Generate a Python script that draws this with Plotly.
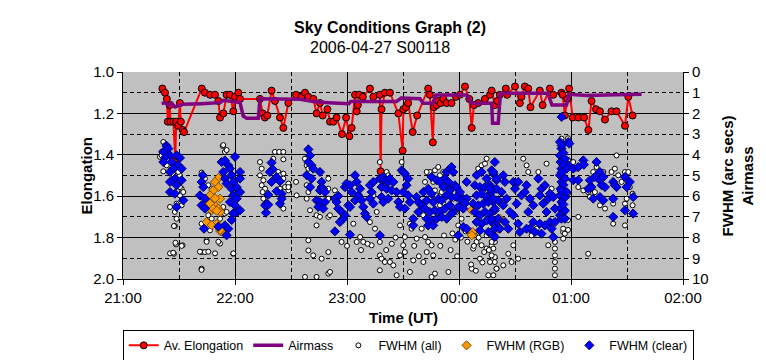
import plotly.graph_objects as go

# ---------------- data (time in minutes after 21:00 UT) ----------------
X_TICK_VALS = [0, 60, 120, 180, 240, 300]
X_TICK_LABELS = ["21:00", "22:00", "23:00", "00:00", "01:00", "02:00"]

ELONG_MIN = [21.1, 22.5, 23.5, 24.0, 25.0, 25.5, 27.0, 28.0, 28.5, 29.5, 30.5, 31.0, 32.0, 32.7,
             42.2, 43.9, 46.6, 49.3, 51.1, 52.0, 53.8, 55.5, 57.3, 59.1, 60.0, 61.8, 62.7,
             73.4, 74.8, 76.0, 77.3, 79.6, 81.4, 84.1, 85.9, 88.6, 92.7, 95.7, 97.5, 99.3,
             102.0, 103.7, 105.5, 107.0, 109.5, 110.9, 112.7, 114.4, 117.3, 119.5, 121.3,
             122.5, 124.3, 125.2, 125.8, 126.5, 128.5, 132.3, 134.1, 137.6, 138.0, 138.5,
             140.3, 143.0, 147.5, 149.8, 150.2, 151.5, 152.8, 155.2, 157.6, 163.5, 164.4,
             166.0, 166.6, 168.0, 168.9, 170.2, 171.6, 173.4, 176.0, 178.4, 180.5, 183.2,
             185.5, 186.8, 188.0, 190.3, 193.9, 196.6, 197.5, 199.2, 200.5, 201.9, 205.1,
             205.8, 210.0, 212.6, 213.5, 215.3, 217.1, 218.3, 223.3, 224.8, 228.7, 230.5,
             234.9, 235.5, 236.7, 238.0, 239.0, 240.9, 243.9, 247.0, 249.3, 251.0, 253.4,
             255.5, 258.2, 261.7, 264.4, 268.9, 270.7, 273.0]
ELONG_VAL = [1.08, 1.10, 1.13, 1.24, 1.16, 1.24, 1.24, 1.42, 1.24, 1.26, 1.15, 1.24, 1.28, 1.29,
             1.08, 1.10, 1.11, 1.11, 1.14, 1.22, 1.20, 1.11, 1.11, 1.19, 1.12, 1.10, 1.13,
             1.13, 1.20, 1.22, 1.21, 1.09, 1.14, 1.22, 1.27, 1.15, 1.11, 1.12, 1.10, 1.12,
             1.13, 1.20, 1.15, 1.21, 1.18, 1.24, 1.24, 1.22, 1.30, 1.22, 1.31,
             1.27, 1.11, 1.19, 1.16, 1.11, 1.12, 1.08, 1.12, 1.11, 1.48, 1.18,
             1.10, 1.10, 1.20, 1.38, 1.18, 1.17, 1.15, 1.29, 1.21, 1.08, 1.11,
             1.34, 1.17, 1.16, 1.14, 1.15, 1.13, 1.15, 1.15, 1.12, 1.11, 1.07,
             1.13, 1.27, 1.16, 1.15, 1.13, 1.11, 1.09, 1.16, 1.14, 1.11, 1.08,
             1.11, 1.07, 1.15, 1.12, 1.07, 1.08, 1.17, 1.09, 1.16, 1.08, 1.11,
             1.10, 1.11, 1.21, 1.13, 1.08, 1.22, 1.22, 1.22, 1.28, 1.14, 1.18,
             1.19, 1.23, 1.19, 1.19, 1.26, 1.12, 1.21]

AIRMASS_MIN = [20.7, 22.5, 24.3, 26.1, 27.8, 30.5, 32.0, 42.0, 52.0, 53.8, 59.0, 62.7, 64.4,
               66.3, 72.5, 73.4, 94.8, 101.9, 110.0, 121.0, 122.0, 146.6, 149.0, 159.1, 160.8,
               166.0, 167.6, 184.1, 186.8, 197.5, 198.0, 201.0, 202.2, 227.6, 229.8, 237.6,
               239.0, 248.3, 264.0, 277.8]
AIRMASS_VAL = [1.53, 1.48, 1.61, 1.50, 1.69, 1.58, 1.56, 1.53, 1.48, 1.37, 1.42, 1.48, 2.13,
               2.24, 2.24, 1.29, 1.32, 1.43, 1.48, 1.53, 1.42, 1.42, 1.26, 1.29, 1.51,
               1.51, 1.11, 1.11, 1.51, 1.51, 2.48, 2.48, 1.03, 1.03, 1.60, 1.60,
               1.08, 1.13, 1.10, 1.08]

ALL_MIN = [21.6, 22.5, 20.7, 24.3, 19.8, 26.1, 23.4, 21.6, 27.0, 30.5, 29.6, 31.4, 30.5, 25.2,
           28.7, 27.8, 28.7, 27.8, 28.4, 31.9, 27.3, 20.7, 22.5, 27.0, 29.6, 30.5, 32.3, 31.4,
           25.2, 26.9, 31.4, 28.1, 27.3,
           42.1, 43.9, 45.7, 47.5, 46.6, 45.7, 47.5, 42.1, 46.6, 44.8, 52.0, 42.1, 43.9, 52.0,
           54.6, 59.1, 42.1, 53.4, 54.6, 55.5, 53.7, 53.7, 55.5, 51.1, 44.8, 45.7, 41.2, 42.1,
           49.3, 59.1,
           73.4, 74.3, 73.4, 75.2, 74.3, 76.1, 75.2, 74.8, 81.4, 83.7, 85.9, 80.5, 85.9, 83.2,
           84.1, 85.9, 85.9, 88.6, 88.6, 86.8, 84.1, 85.9, 92.7, 93.0, 88.6,
           97.5, 98.4, 99.3, 98.4, 99.3, 98.4, 100.2, 103.7, 105.5, 110.0, 110.0, 110.0, 110.0,
           103.7, 99.3, 99.3, 101.9, 110.0, 106.4, 97.5, 103.7, 110.0,
           113.5, 110.9, 117.1, 123.4, 125.2, 128.7, 127.0, 132.3, 135.0, 135.9, 137.6, 137.6,
           141.2, 142.1, 110.9, 137.6, 138.5, 140.3, 143.0, 144.8, 137.6, 148.4, 149.3, 151.0,
           150.1, 151.0, 153.7, 154.6, 155.5, 153.7, 146.6, 134.1, 133.2, 148.4, 157.3,
           167.1, 168.9, 164.4, 161.8, 162.7, 169.8, 171.6, 167.1, 170.7, 160.9, 160.0, 161.8,
           163.5, 165.3, 162.7, 166.2, 160.9, 167.1, 165.3, 174.3, 179.6, 181.4, 178.7, 190.3,
           192.1, 193.9, 194.8, 188.5, 189.4, 192.1, 194.8, 197.5, 199.2, 196.6, 191.2, 187.6,
           200.1, 195.7, 186.8, 199.2, 185.9, 194.8, 168.0, 171.6, 174.3, 176.9, 169.8, 166.2,
           197.5, 198.4, 197.5, 199.2, 200.1, 198.4, 203.7, 206.4, 208.2, 211.7, 216.2, 217.1,
           214.4, 222.5, 226.9, 229.6, 231.4, 231.4, 231.4, 231.4, 231.4, 231.4, 234.9, 235.8,
           235.8, 237.6, 218.9, 221.6, 227.8, 209.1, 238.4, 238.4, 238.4, 238.4, 238.4,
           235.8, 236.7, 243.9, 249.2, 241.2, 243.0, 243.9, 246.6, 253.7, 251.9, 257.3, 252.8,
           255.5, 258.2, 261.7, 263.5, 264.4, 265.3, 267.1, 262.6, 262.6, 268.9, 270.7, 269.8,
           268.9, 268.9, 273.0, 273.0, 271.5, 249.2, 250.1,
           176.5, 178.0, 172.0, 181.0, 183.5, 170.0, 175.5, 179.0, 184.5, 188.0, 190.5, 193.5,
           196.0, 186.5, 189.0, 192.5, 144.0, 146.0, 141.0, 156.0, 158.5, 131.0, 127.5, 120.0]
ALL_VAL = [3.38, 3.54, 3.86, 4.22, 4.10, 4.27, 4.51, 4.80, 4.96, 4.99, 5.31, 5.64, 5.96, 6.52,
           6.36, 6.76, 7.09, 7.44, 8.33, 8.37, 8.78, 4.03, 3.95, 4.51, 4.83, 5.56, 5.80, 6.44,
           8.76, 8.73, 8.40, 8.25, 7.44,
           4.86, 5.15, 5.47, 5.64, 6.12, 6.92, 7.09, 7.33, 7.65, 8.13, 8.29, 8.70, 8.70, 7.09,
           6.84, 8.78, 9.50, 3.57, 3.86, 6.76, 6.52, 3.53, 3.77, 8.20, 8.20, 8.68, 8.68, 9.56,
           8.76, 8.76,
           4.35, 4.67, 4.99, 5.23, 5.47, 5.64, 6.12, 5.80, 3.86, 3.86, 3.86, 4.19, 4.22, 4.83,
           4.99, 4.91, 5.15, 5.39, 5.72, 5.56, 5.64, 6.60, 5.31, 5.96, 5.56,
           4.19, 4.51, 4.67, 5.47, 5.80, 6.12, 6.68, 6.92, 7.00, 5.15, 5.64, 6.12, 7.00,
           7.41, 8.13, 8.62, 8.86, 8.70, 9.02, 9.90, 9.90, 9.74,
           5.72, 6.92, 8.21, 7.33, 8.21, 8.21, 7.97, 7.25, 7.57, 6.76, 4.35, 8.21,
           4.83, 4.99, 9.66, 8.86, 9.02, 9.18, 9.18, 9.34, 9.58, 7.41, 4.35, 7.97,
           8.37, 8.70, 7.33, 7.57, 9.10, 9.66, 9.82, 5.96, 8.37, 8.86, 8.05,
           4.75, 4.59, 4.83, 5.31, 4.83, 4.99, 4.83, 5.72, 5.80, 6.92, 7.57, 7.97,
           8.21, 8.37, 8.70, 8.86, 9.18, 9.74, 9.90, 9.66, 7.41, 7.09, 6.76, 4.67,
           4.51, 4.43, 4.19, 7.89, 8.21, 8.37, 8.53, 8.37, 8.94, 9.18, 9.02, 8.53,
           9.50, 9.82, 9.50, 8.21, 7.73, 7.89, 5.96, 6.36, 5.64, 6.12, 6.44, 5.31,
           8.21, 8.53, 8.86, 9.18, 9.50, 9.82, 9.34, 8.78, 9.18, 9.02, 4.51, 4.83,
           4.19, 4.83, 4.43, 5.64, 8.21, 8.53, 8.86, 9.18, 9.50, 9.82, 3.22, 7.73,
           8.05, 4.35, 7.89, 7.57, 8.37, 8.37, 3.20, 4.25, 5.86, 7.15, 7.63,
           7.57, 7.81, 7.00, 8.78, 4.35, 4.67, 5.56, 5.72, 4.59, 4.83, 4.83, 5.80,
           6.44, 6.60, 4.83, 4.67, 4.03, 4.99, 5.31, 6.36, 7.33, 4.83, 4.83, 6.12,
           6.36, 7.41, 5.88, 6.44, 5.56, 5.80, 6.04,
           7.80, 8.10, 7.90, 8.00, 7.70, 8.40, 8.60, 8.90, 8.20, 8.40, 8.00, 8.70,
           8.60, 9.30, 9.60, 9.20, 8.30, 8.00, 8.60, 8.40, 8.90, 8.30, 8.60, 8.40]

RGB_MIN = [51.1, 49.3, 51.1, 48.4, 46.6, 52.0, 49.3, 47.5, 51.1, 52.0, 44.8, 50.2, 52.0, 52.3,
           46.6, 48.4, 50.2, 49.3, 47.5, 52.0, 186.8, 187.3, 186.8, 201.9, 201.0, 201.6]
RGB_VAL = [5.12, 5.31, 5.56, 5.72, 5.96, 6.12, 6.44, 6.68, 6.60, 6.76, 7.25, 7.33, 7.57, 7.70,
           6.36, 6.60, 6.70, 6.10, 7.40, 7.63, 6.68, 7.73, 7.89, 7.09, 7.57, 7.54]

CLEAR_MIN = [23.4, 21.6, 24.3, 25.2, 22.5, 21.6, 26.1, 28.7, 30.5, 29.6, 27.0, 25.2, 31.4, 27.8,
             25.2, 31.4, 28.7, 25.2, 27.8, 32.3, 28.7,
             42.7, 42.1, 43.0, 41.2, 43.9, 42.1, 43.9, 43.4, 52.8, 54.6, 56.4, 53.7, 57.3, 58.2,
             54.6, 55.5, 59.1, 58.2, 60.9, 59.1, 60.9, 57.3, 60.0, 61.2, 54.6, 56.4, 55.5, 59.1,
             60.0, 62.7, 62.7, 62.7, 62.7, 51.1, 58.2,
             79.6, 80.2, 78.7, 82.3, 84.1, 79.6, 77.8, 82.3, 85.0, 76.9, 76.1, 77.8, 76.6, 84.1,
             85.0,
             99.3, 100.2, 99.3, 101.0, 101.9, 98.4, 101.0, 100.2, 105.5, 106.4, 106.4, 105.5,
             107.3, 108.2, 103.7, 105.5, 108.2, 104.6, 107.3,
             113.5, 114.4, 115.3, 118.9, 119.8, 121.6, 124.3, 125.2, 122.5, 126.1, 127.0, 124.3,
             127.8, 120.7, 121.6, 115.3, 117.1, 118.9, 118.0, 116.2, 113.5, 128.7, 129.6, 130.5,
             132.3, 134.1, 133.2, 132.3, 134.1, 137.6, 139.4, 140.3, 142.1, 143.0, 144.8, 138.5,
             141.2, 143.9, 138.5, 139.4, 142.1, 146.6, 147.5, 148.4, 149.3, 150.1, 151.0, 152.8,
             151.9, 150.1, 152.8, 153.7, 151.0, 155.5, 155.5, 157.3, 158.2, 121.6, 137.6, 158.2,
             165.3, 168.0, 169.8, 173.4, 175.1, 176.0, 176.9, 172.5, 174.3, 171.6, 175.1, 177.8,
             178.7, 180.5, 182.3, 184.1, 160.9, 163.5, 165.3, 162.7, 166.2, 168.9, 170.7, 173.4,
             176.0, 178.7, 181.4, 184.1, 183.2, 160.0, 161.8, 164.4, 167.1, 169.8, 172.5, 175.1,
             176.9, 179.6, 182.3, 162.7, 165.3, 168.0, 170.7, 173.4, 176.0, 163.5, 166.2, 179.6,
             182.3, 184.1, 189.4, 192.1, 194.8, 197.5, 198.4, 188.5, 191.2, 193.9, 196.6, 200.1,
             189.4, 192.1, 194.8, 197.5, 200.1, 187.6, 190.3, 193.0, 195.7, 198.4, 201.0, 188.5,
             191.2, 193.9, 196.6, 199.2, 189.4, 192.1, 194.8, 197.5, 200.1, 191.2, 195.7, 198.4,
             201.0,
             199.2, 198.4, 200.1, 196.6, 198.4, 199.2, 197.5, 199.2, 199.2, 203.7, 204.6, 202.8,
             205.5, 203.7, 207.3, 204.6, 201.9, 206.4, 209.1, 210.0, 211.7, 213.5, 210.9, 209.1,
             211.7, 212.6, 215.3, 216.2, 218.0, 217.1, 219.8, 219.8, 218.0, 220.7, 222.5, 224.2,
             223.3, 226.0, 225.1, 227.8, 226.9, 228.7, 231.4, 229.6, 230.5, 231.4, 226.0, 224.2,
             223.3, 228.7, 230.5, 216.2,
             234.1, 234.9, 234.1, 234.4, 234.9, 234.1, 234.9, 234.4, 234.1, 234.9, 234.4, 234.1,
             234.9, 238.5, 238.5, 236.7, 235.0, 235.9, 236.8, 235.9, 235.0, 236.8, 235.9, 235.0,
             236.8, 235.9, 236.8, 239.1, 237.7, 237.7, 235.0,
             241.2, 243.9, 246.6, 246.9, 241.2, 243.9, 250.1, 249.2, 251.0, 253.7, 255.5, 252.8,
             255.5, 257.3, 256.4, 258.2, 251.9, 255.5, 257.3, 262.6, 263.5, 264.4, 262.6, 262.6,
             268.9, 271.5, 269.8, 268.9, 273.3, 273.3]
CLEAR_VAL = [3.57, 3.86, 3.70, 4.03, 4.15, 4.35, 4.35, 4.03, 4.15, 4.51, 4.67, 4.83, 4.67, 5.15,
             5.31, 5.23, 5.47, 5.80, 5.88, 6.20, 6.52,
             4.99, 5.31, 5.56, 5.96, 6.12, 6.44, 6.60, 7.57, 4.35, 4.27, 4.51, 4.83, 4.67, 4.99,
             5.15, 5.39, 5.31, 5.64, 5.56, 5.96, 6.12, 6.28, 6.44, 6.76, 7.41, 7.57, 7.89, 6.83,
             4.10, 4.83, 5.15, 5.80, 6.68, 7.47, 7.15,
             4.38, 4.70, 4.83, 5.07, 5.28, 5.31, 5.93, 5.76, 5.88, 6.36, 6.44, 6.41, 6.80, 6.36,
             6.12,
             3.74, 4.03, 4.35, 4.51, 4.67, 4.99, 5.15, 5.56, 4.83, 5.31, 5.56, 5.72,
             5.64, 5.80, 6.20, 6.28, 6.28, 6.52, 6.60,
             6.12, 6.28, 5.99, 5.56, 5.39, 5.47, 4.99, 5.31, 5.80, 5.96, 5.64, 6.20,
             6.20, 6.44, 6.52, 6.60, 6.76, 6.92, 7.09, 7.25, 7.70, 6.52, 6.84, 7.00,
             5.47, 5.31, 5.80, 6.12, 6.36, 5.15, 5.07, 5.23, 5.31, 5.15, 5.31, 5.56,
             5.64, 5.72, 6.04, 6.28, 6.12, 5.80, 6.28, 6.52, 4.75, 4.83, 4.91, 5.15,
             5.47, 5.80, 5.96, 6.28, 6.60, 7.09, 7.41, 6.04, 6.28, 7.86, 7.89, 6.76,
             5.07, 5.23, 5.31, 4.83, 4.67, 4.59, 4.83, 5.15, 5.31, 5.56, 5.72, 5.47,
             5.56, 5.80, 6.12, 5.31, 5.80, 5.64, 5.88, 6.20, 6.28, 6.12, 6.20, 5.96,
             6.04, 6.04, 6.20, 6.12, 6.36, 6.44, 6.60, 6.76, 6.68, 6.76, 6.60, 6.44,
             6.76, 6.52, 6.60, 7.09, 7.17, 7.09, 7.00, 7.09, 6.84, 7.41, 7.41, 7.89,
             7.49, 7.57, 4.99, 4.83, 5.15, 4.75, 4.91, 5.47, 5.56, 5.56, 5.47, 5.23,
             5.96, 5.88, 6.04, 5.80, 5.64, 6.36, 6.44, 6.36, 6.28, 6.28, 6.20, 6.76,
             6.92, 6.76, 6.84, 6.68, 7.25, 7.33, 7.17, 7.25, 7.41, 7.65, 7.73, 7.89,
             7.09,
             4.35, 4.83, 5.15, 5.64, 6.12, 6.60, 7.09, 7.57, 7.97, 4.99, 5.31, 5.80,
             6.12, 6.44, 6.76, 7.25, 7.57, 7.57, 5.31, 5.64, 5.31, 5.96, 6.36, 6.92,
             7.33, 7.73, 5.80, 5.47, 6.12, 6.76, 6.44, 7.25, 7.57, 7.73, 5.15, 5.64,
             5.96, 5.47, 6.36, 6.12, 6.76, 7.25, 6.60, 7.57, 7.97, 7.25, 7.41, 7.81,
             7.33, 5.88, 6.04, 7.57,
             3.38, 3.70, 4.03, 4.35, 4.67, 4.99, 5.31, 5.64, 5.96, 6.28, 6.60, 6.92,
             7.09, 3.38, 4.51, 7.09, 3.55, 3.90, 4.20, 4.50, 4.85, 5.15, 5.45, 5.75,
             6.05, 6.40, 6.70, 3.46, 4.67, 5.80, 2.17,
             4.67, 4.59, 4.27, 4.48, 5.23, 5.23, 5.23, 5.64, 5.56, 4.35, 4.83, 5.07,
             5.23, 5.07, 5.47, 5.56, 6.12, 6.04, 6.20, 5.31, 5.47, 5.56, 6.12, 7.00,
             5.07, 5.31, 5.56, 6.68, 6.04, 6.84]

FONT = "Liberation Sans, Arial, sans-serif"
DASH = "4px,3px"

fig = go.Figure()

fig.add_trace(go.Scatter(
    x=ELONG_MIN, y=ELONG_VAL, name="Av. Elongation", mode="lines+markers",
    line=dict(color="#ff0000", width=2),
    marker=dict(symbol="circle", size=7, color="#ff0000", line=dict(color="#000000", width=1)),
    yaxis="y", legendrank=1))
fig.add_trace(go.Scatter(
    x=AIRMASS_MIN, y=AIRMASS_VAL, name="Airmass", mode="lines",
    line=dict(color="#800080", width=3.5), yaxis="y2", legendrank=2))
fig.add_trace(go.Scatter(
    x=ALL_MIN, y=ALL_VAL, name="FWHM (all)", mode="markers",
    marker=dict(symbol="circle", size=5, color="#ffffff", line=dict(color="#000000", width=1)),
    yaxis="y2", legendrank=3))
fig.add_trace(go.Scatter(
    x=RGB_MIN, y=RGB_VAL, name="FWHM (RGB)", mode="markers",
    marker=dict(symbol="diamond", size=7, color="#ff9900", line=dict(color="#7a4a00", width=1)),
    yaxis="y2", legendrank=4))
fig.add_trace(go.Scatter(
    x=CLEAR_MIN, y=CLEAR_VAL, name="FWHM (clear)", mode="markers",
    marker=dict(symbol="diamond", size=7, color="#0000ff", line=dict(color="#000066", width=1)),
    yaxis="y2", legendrank=5))

fig.update_layout(
    width=766, height=360,
    margin=dict(l=123, r=83, t=72, b=81, autoexpand=False),
    paper_bgcolor="#ffffff", plot_bgcolor="#c0c0c0",
    font=dict(family=FONT, size=15, color="#000000"),
    showlegend=True,
    legend=dict(orientation="h", x=-0.0005, xanchor="left", y=-0.245, yanchor="top",
                bordercolor="#000000", borderwidth=1, font=dict(size=12.5, family=FONT),
                bgcolor="#ffffff", traceorder="normal"),
    xaxis=dict(range=[0, 300], tickvals=X_TICK_VALS, ticktext=X_TICK_LABELS,
               showgrid=True, gridcolor="#000000", gridwidth=1,
               minor=dict(dtick=30, tick0=0, showgrid=True, gridcolor="#000000",
                          griddash=DASH, gridwidth=1),
               showline=True, linecolor="#000000", linewidth=1,
               ticks="outside", ticklen=5, tickcolor="#000000",
               zeroline=False, tickfont=dict(size=15)),
    yaxis=dict(range=[2.0, 1.0], dtick=0.2, tick0=1.0, tickformat=".1f",
               showgrid=True, gridcolor="#000000", gridwidth=1,
               minor=dict(dtick=0.1, tick0=1.0, showgrid=True, gridcolor="#000000",
                          griddash=DASH, gridwidth=1),
               showline=True, linecolor="#000000", linewidth=1,
               ticks="outside", ticklen=5, tickcolor="#000000",
               zeroline=False, tickfont=dict(size=15)),
    yaxis2=dict(range=[10, 0], dtick=1, tick0=0, overlaying="y", side="right",
                showgrid=False, zeroline=False,
                showline=True, linecolor="#000000", linewidth=1,
                ticks="outside", ticklen=5, tickcolor="#000000",
                tickfont=dict(size=15)),
    annotations=[
        dict(text="<b>Sky Conditions Graph (2)</b>", xref="paper", yref="paper",
             x=0.477, y=1.217, xanchor="center", yanchor="middle", showarrow=False,
             font=dict(size=16, family=FONT)),
        dict(text="2006-04-27 S00118", xref="paper", yref="paper",
             x=0.459, y=1.12, xanchor="center", yanchor="middle", showarrow=False,
             font=dict(size=16, family=FONT)),
        dict(text="<b>Elongation</b>", xref="paper", yref="paper",
             x=-0.066, y=0.5, xanchor="center", yanchor="middle", showarrow=False,
             textangle=-90, font=dict(size=15, family=FONT)),
        dict(text="<b>Time (UT)</b>", xref="paper", yref="paper",
             x=0.5, y=-0.188, xanchor="center", yanchor="middle", showarrow=False,
             font=dict(size=15, family=FONT)),
        dict(text="<b>FWHM (arc secs)<br>Airmass</b>", xref="paper", yref="paper",
             x=1.098, y=0.5, xanchor="center", yanchor="middle", showarrow=False,
             textangle=-90, font=dict(size=15, family=FONT)),
    ],
)

fig.write_html("out.html",
               config={"displayModeBar": False},
               post_script="document.body.style.margin='0';document.body.style.padding='0';")
